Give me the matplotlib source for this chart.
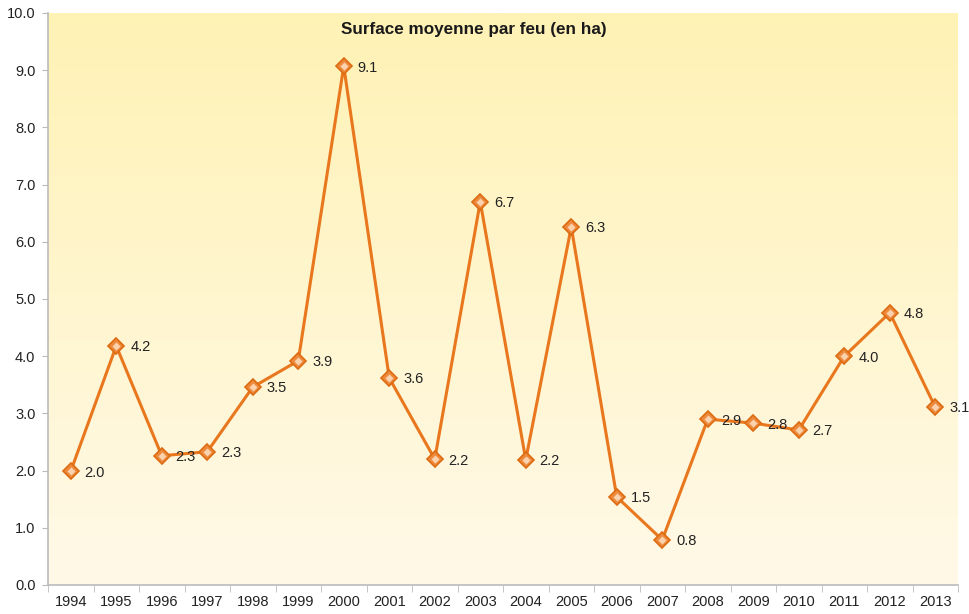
import numpy as np
import matplotlib
matplotlib.use("Agg")
import matplotlib.pyplot as plt
from matplotlib.colors import LinearSegmentedColormap

plt.rcParams["font.family"] = ["Liberation Sans", "DejaVu Sans"]

years = ["1994", "1995", "1996", "1997", "1998", "1999", "2000", "2001", "2002", "2003",
         "2004", "2005", "2006", "2007", "2008", "2009", "2010", "2011", "2012", "2013"]
values = [1.99, 4.18, 2.26, 2.33, 3.46, 3.92, 9.07, 3.62, 2.20, 6.70,
          2.19, 6.26, 1.54, 0.79, 2.90, 2.83, 2.71, 4.00, 4.76, 3.11]
title = "Surface moyenne par feu (en ha)"

fig = plt.figure(figsize=(9.7, 6.14), dpi=100)
ax = fig.add_axes([48 / 970, 1 - 585 / 614, 910 / 970, 572 / 614])

x = np.arange(len(years))
ax.set_xlim(-0.5, len(years) - 0.5)
ax.set_ylim(0, 10)

# background gradient
cmap = LinearSegmentedColormap.from_list("bg", ["#FFF9E8", "#FFF2B5"])
grad = np.linspace(0, 1, 256).reshape(-1, 1)
ax.imshow(grad, extent=(-0.5, len(years) - 0.5, 0, 10), origin="lower",
          aspect="auto", cmap=cmap, zorder=0)

ax.plot(x, values, color="#E8771E", lw=2.2, zorder=2)
ax.plot(x, values, linestyle="none", marker="D", ms=8.5, mfc="#EE8A3C",
        mec="#DD6B12", mew=1.2, zorder=3)
ax.plot(x, values, linestyle="none", marker="D", ms=4, mfc="#FBD2AE",
        mec="none", zorder=4)

for xi, v in zip(x, values):
    ax.annotate(f"{v:.1f}", (xi, v), xytext=(10, -1), textcoords="offset points",
                ha="left", va="center", fontsize=10.5, color="#222222",
                annotation_clip=False, zorder=5)

ax.text(8.86, 9.72, title, ha="center", va="center",
        fontsize=12.3, fontweight="bold", color="#1a1a1a", zorder=5,
        family=["Liberation Sans Narrow", "Liberation Sans", "DejaVu Sans"])

ax.set_yticks(np.arange(0, 10.01, 1.0))
ax.set_yticklabels([f"{t:.1f}" for t in np.arange(0, 10.01, 1.0)], fontsize=10.5, color="#222222")
ax.set_xticks(x)
ax.set_xticklabels(years, fontsize=10.5, color="#222222")
ax.set_xticks(np.arange(-0.5, len(years), 1.0), minor=True)
ax.tick_params(axis="x", which="major", length=0, pad=7)
ax.tick_params(axis="x", which="minor", length=5, color="#BBBBBB", direction="out")
ax.tick_params(axis="y", length=4, color="#BBBBBB", pad=5)

for s in ["top", "right"]:
    ax.spines[s].set_visible(False)
for s in ["left", "bottom"]:
    ax.spines[s].set_color("#BBBBBB")
    ax.spines[s].set_linewidth(1.2)

fig.savefig("out.png", dpi=100, facecolor="white")
